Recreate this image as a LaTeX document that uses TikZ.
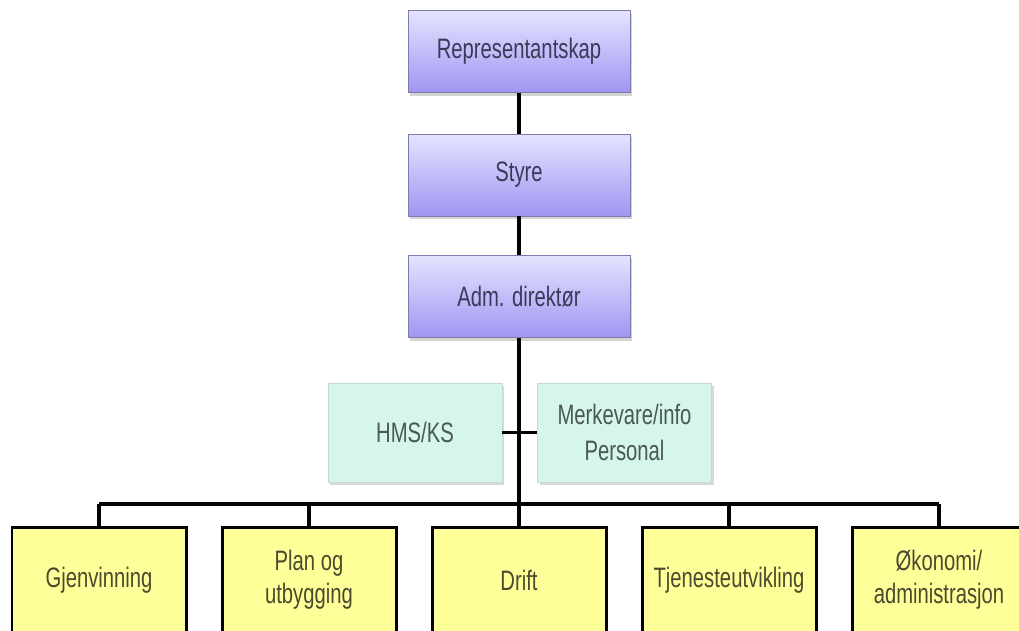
\documentclass[tikz,border=0pt]{standalone}
\usepackage{fontspec}
\setmainfont[FakeStretch=0.72]{Liberation Sans}
\usepackage{tikz}
\usetikzlibrary{positioning,shadows,calc}
\definecolor{lavtop}{HTML}{E4E4FF}
\definecolor{lavbot}{HTML}{A095F2}
\definecolor{lavline}{HTML}{7C7CA8}
\definecolor{lavtext}{HTML}{3A3A58}
\definecolor{mint}{HTML}{D6F6ED}
\definecolor{mintline}{HTML}{C2DDD5}
\definecolor{minttext}{HTML}{4A5753}
\definecolor{lemon}{HTML}{FFFF99}
\definecolor{lemontext}{HTML}{4A4A2E}

\begin{document}
\begin{tikzpicture}[
  board/.style={draw=lavline,top color=lavtop,bottom color=lavbot,
    minimum width=4.44cm,minimum height=1.64cm,align=center,
    font=\fontsize{16}{18}\selectfont,text=lavtext,
    drop shadow={opacity=0.35,shadow xshift=0.04cm,shadow yshift=-0.06cm}},
  staff/.style={draw=mintline,fill=mint,minimum width=3.48cm,minimum height=1.98cm,
    align=center,font=\fontsize{16}{20}\selectfont,text=minttext,
    drop shadow={opacity=0.3,shadow xshift=0.04cm,shadow yshift=-0.06cm}},
  unit/.style={draw=black,line width=0.06cm,fill=lemon,minimum width=3.48cm,
    minimum height=2.12cm,align=center,font=\fontsize{16}{19}\selectfont,text=lemontext},
  link/.style={draw=black,line width=0.075cm}
]
\clip (0,0) rectangle (20.38,12.6);

\node[board] (rep) at (10.38,11.57) {Representantskap};
\node[board] (styre) at (10.38,9.10) {Styre};
\node[board] (adm) at (10.38,6.67) {Adm. direktør};

\node[staff] (hms) at (8.30,3.95) {HMS/KS};
\node[staff] (merk) at (12.49,3.95) {Merkevare/info\\Personal};

\node[unit] (gjen) at (1.98,1.0) {Gjenvinning};
\node[unit,right=0.66cm of gjen] (plan) {Plan og\\utbygging};
\node[unit,right=0.66cm of plan] (drift) {Drift};
\node[unit,right=0.66cm of drift] (tjen) {Tjenesteutvikling};
\node[unit,right=0.66cm of tjen] (okon) {Økonomi/\\administrasjon};

\coordinate (busmid) at (10.38,2.52);

\draw[link] (rep) -- (styre);
\draw[link] (styre) -- (adm);
\draw[link] (adm.south) -- (busmid);
\draw[link] (hms.east) -- (merk.west);
\draw[link] (gjen.north |- busmid) -- (okon.north |- busmid);
\foreach \x in {gjen,plan,drift,tjen,okon}
  \draw[link] (\x.north |- busmid) -- (\x.north);
\end{tikzpicture}
\end{document}
